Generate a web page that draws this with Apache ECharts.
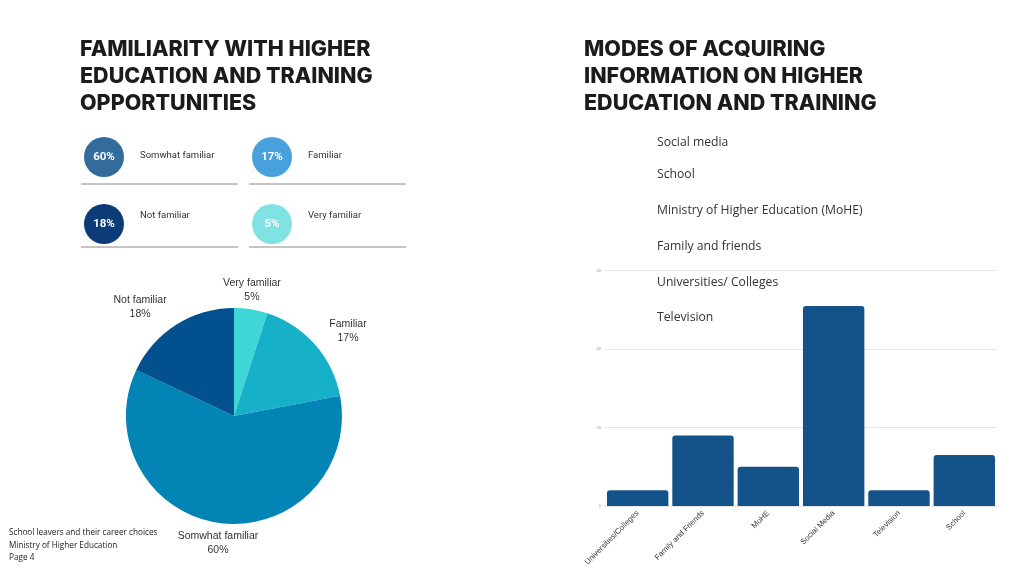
<!DOCTYPE html>
<html>
<head>
<meta charset="utf-8">
<script src="https://cdn.jsdelivr.net/npm/echarts@6/dist/echarts.min.js"></script>
<style>
html,body{margin:0;padding:0;background:#fff;}
#c{width:1024px;height:576px;}
</style>
</head>
<body>
<div id="c"></div>
<script>
// ---- data ----
const pieNames = ['Very familiar', 'Familiar', 'Somwhat familiar', 'Not familiar'];
const pieValues = [5, 17, 60, 18];

const legendNames = ['Somwhat familiar', 'Familiar', 'Not familiar', 'Very familiar'];
const legendValues = [60, 17, 18, 5];

const barCategories = ['Universities/Colleges', 'Family and Friends', 'MoHE', 'Social Media', 'Television', 'School'];
const barValues = [4, 18, 10, 51, 4, 13];
const yTicks = [0, 20, 40, 60];

const channelList = ['Social media', 'School', 'Ministry of Higher Education (MoHE)', 'Family and friends', 'Universities/ Colleges', 'Television'];

const leftTitle = ['FAMILIARITY WITH HIGHER', 'EDUCATION AND TRAINING', 'OPPORTUNITIES'];
const rightTitle = ['MODES OF ACQUIRING', 'INFORMATION ON HIGHER', 'EDUCATION AND TRAINING'];
const footnote = ['School leavers and their career choices', 'Ministry of Higher Education', 'Page 4'];

// ---- styling (not data) ----
const pieColors = ['#3fd6d7', '#16b1c9', '#0284b4', '#02508e'];
const legendColors = ['#336b9c', '#48a0dc', '#0c3c78', '#80e2e3'];
const pieLabelCfg = [
  {w: 66, len: 19.6, len2: -35},
  {w: 44, len: 20.5, len2: -4.4},
  {w: 86, len: 20, len2: -43},
  {w: 62, len: 21, len2: -6.2}
];

const graphics = [];
// titles
leftTitle.forEach((t, i) => graphics.push({type: 'text', left: 80, top: 39 + i * 27,
  style: {text: t, font: '800 21.5px Inter', fill: '#1b1b1b'}}));
rightTitle.forEach((t, i) => graphics.push({type: 'text', left: 584, top: 39 + i * 27,
  style: {text: t, font: '800 21.5px Inter', fill: '#1b1b1b'}}));
// legend cards
legendNames.forEach((n, i) => {
  const col = i % 2, row = Math.floor(i / 2);
  const cx = 104 + col * 168, cy = 157 + row * 67;
  graphics.push({type: 'circle', shape: {cx: cx, cy: cy, r: 20}, style: {fill: legendColors[i]}});
  graphics.push({type: 'text', x: cx, y: cy, style: {text: legendValues[i] + '%', font: 'bold 11.5px Roboto',
    fill: '#fff', align: 'center', verticalAlign: 'middle'}});
  graphics.push({type: 'text', x: cx + 36, y: cy - 1 - row * 7, style: {text: n, font: '9.5px Roboto',
    fill: '#333', verticalAlign: 'middle'}});
  graphics.push({type: 'line', shape: {x1: 81 + col * 168, y1: 184 + row * 63, x2: 238 + col * 168, y2: 184 + row * 63},
    style: {stroke: '#8a8a8a', lineWidth: 1}});
});
// channel list
const channelY = [143, 175, 211, 247, 283, 318];
channelList.forEach((t, i) => graphics.push({type: 'text', left: 657, y: channelY[i],
  style: {text: t, font: '12.2px "Open Sans"', fill: '#333', verticalAlign: 'middle'}}));
// footnote
footnote.forEach((t, i) => graphics.push({type: 'text', left: 9, y: 533 + i * 12.5,
  style: {text: t, font: '8.2px "Open Sans"', fill: '#222', verticalAlign: 'middle'}}));

const chart = echarts.init(document.getElementById('c'));
chart.setOption({
  backgroundColor: '#fff',
  animation: false,
  grid: {left: 605, right: 27, top: 270.7, bottom: 70},
  xAxis: {
    type: 'category', data: barCategories,
    axisLine: {show: false}, axisTick: {show: false},
    axisLabel: {rotate: 45, fontSize: 7.8, color: '#333', margin: 6, interval: 0, fontFamily: 'Liberation Sans'}
  },
  yAxis: {
    type: 'value', min: 0, max: 60, interval: 20,
    axisLabel: {fontSize: 4, color: '#999', margin: 4},
    splitLine: {lineStyle: {color: '#e6e6e6', width: 1}},
    axisLine: {show: false}, axisTick: {show: false}
  },
  series: [
    {
      type: 'bar', data: barValues, barCategoryGap: '6%',
      itemStyle: {color: '#14538a', borderRadius: [3, 3, 0, 0]}
    },
    {
      type: 'pie', center: [234, 416], radius: 108, startAngle: 90,
      avoidLabelOverlap: false,
      data: pieNames.map((n, i) => ({
        name: n, value: pieValues[i],
        itemStyle: {color: pieColors[i]},
        label: {rich: {a: {width: pieLabelCfg[i].w, align: 'center', fontSize: 10.5, lineHeight: 14,
          color: '#333', fontFamily: 'Liberation Sans'}}},
        labelLine: {show: false, length: pieLabelCfg[i].len, length2: pieLabelCfg[i].len2}
      })),
      label: {show: true, position: 'outside', distanceToLabelLine: 0,
        formatter: '{a|{b}}\n{a|{c}%}'},
      labelLine: {show: false},
      emphasis: {disabled: true}
    }
  ],
  graphic: graphics
});
</script>
</body>
</html>
